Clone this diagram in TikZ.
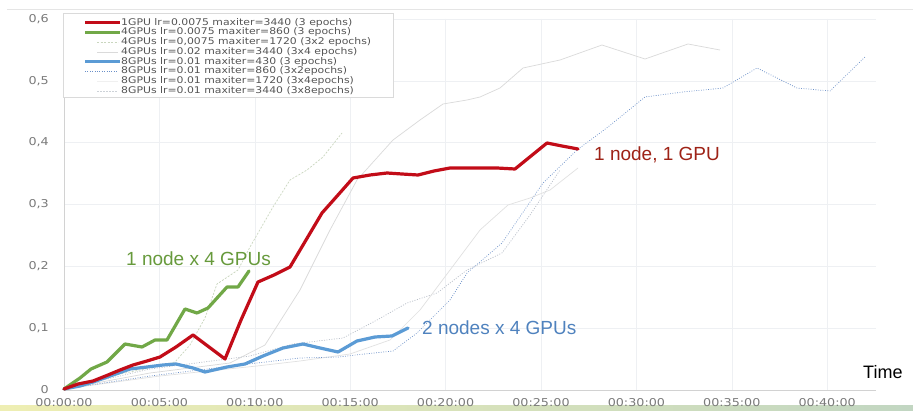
\documentclass[tikz,border=0pt]{standalone}
\usepackage{fontspec}
\setmainfont{Liberation Sans}
\newfontfamily\tickfont[FakeStretch=1.18]{DejaVu Sans}
\usetikzlibrary{calc}

\definecolor{gpuone}{HTML}{C20C18}
\definecolor{gpufour}{HTML}{71A847}
\definecolor{gpueight}{HTML}{5B9BD5}
\definecolor{gpuonetxt}{HTML}{9E2216}
\definecolor{gpufourtxt}{HTML}{679A3C}
\definecolor{gpueighttxt}{HTML}{4F82BE}
\definecolor{gridc}{HTML}{EEF0F3}
\definecolor{axisc}{HTML}{D2D2D2}
\definecolor{tickc}{HTML}{7A7A7A}
\definecolor{legc}{HTML}{555555}
\definecolor{fgreen}{HTML}{C9D6BE}
\definecolor{fgray}{HTML}{DADADA}
\definecolor{fblue}{HTML}{6A8FC8}
\definecolor{fdot}{HTML}{B8BEC8}

\tikzset{
  run/.style={line width=3.2pt, line join=round, line cap=round},
  faint/.style={line width=0.7pt, line join=round},
  tick/.style={font=\tickfont\fontsize{10.8}{12}\selectfont, text=tickc, inner sep=0},
  legtext/.style={font=\tickfont\fontsize{9.2}{9.75}\selectfont, text=legc, anchor=west, inner sep=0},
  note/.style={font=\fontsize{19}{22}\selectfont, anchor=west, inner sep=0}
}

\begin{document}
\begin{tikzpicture}[x=1pt,y=-1pt]
    \useasboundingbox (0,0) rectangle (913,411);
    \fill[white] (0,0) rectangle (913,411);
    \draw[fgray!70] (7,9) -- (913,9);
    \shade[left color=black!22!yellow!30!white, right color=green!20!gray!40] (0,406) rectangle (913,411);

    % grid and axes
    \foreach \i in {1,...,8}
        \draw[gridc] ({64+95.4*\i},19) -- ({64+95.4*\i},390);
    \foreach \j in {1,...,6}
        \draw[gridc] (64,{389.5-61.75*\j}) -- (876,{389.5-61.75*\j});
    \draw[axisc] (64,19) -- (64,390) -- (876,390);

    \foreach \lab [count=\i from 0] in {00:00:00,00:05:00,00:10:00,00:15:00,00:20:00,00:25:00,00:30:00,00:35:00,00:40:00}
        \node[tick] (t\i) at ({64+95.4*\i},403) {\lab};
    \foreach \lab [count=\j from 0] in {0,{0,1},{0,2},{0,3},{0,4},{0,5},{0,6}}
        \node[tick, anchor=east] (a\j) at (49,{389.5-61.75*\j}) {\lab};

    % faint runs
    \draw[faint, fgreen, dash pattern=on 2pt off 1.5pt] plot coordinates {(64,389) (100,378) (140,370) (175,362) (190,345) (205,318) (217,284) (238,270) (250,247) (273,207) (290,180) (307,170) (323,157) (342,133)};
    \draw[faint, fgray] plot coordinates {(64,389) (150,373) (230,363) (265,345) (300,290) (330,230) (357,180) (393,140) (420,120) (443,104) (467,100) (480,97) (500,88) (523,68) (560,60) (602,45) (645,59) (688,44) (720,50)};
    \draw[faint, fdot, dash pattern=on 1pt off 1.5pt] plot coordinates {(64,389) (150,369) (250,356) (293,344) (343,338) (377,320) (407,303) (437,293) (467,270) (502,253) (530,215) (560,170)};
    \draw[faint, fgray!80] plot coordinates {(64,389) (160,376) (257,366) (300,361) (350,354) (390,340) (420,310) (450,270) (480,230) (508,205) (530,198) (550,190) (578,168)};
    \draw[faint, fblue, dash pattern=on 0.8pt off 1.6pt] plot coordinates {(64,389) (150,376) (257,363) (300,358) (338,357) (365,354) (393,351) (417,333) (450,300) (467,273) (502,243) (543,183) (577,150) (608,127) (645,97) (683,92) (723,88) (757,68) (797,88) (830,91) (865,57)};

    % main runs
    \draw[run, gpueight] plot coordinates {(64,389) (80,386) (96,381) (113,375) (130,369) (147,367) (163,365) (176,364) (193,368) (205,372) (227,367) (245,364) (263,356) (283,348) (303,344) (320,348) (338,352) (357,341) (375,337) (392,336) (408,328)};
    \draw[run, gpufour] plot coordinates {(64,389) (80,378) (91,369) (107,362) (125,344) (142,347) (155,340) (167,340) (185,309) (197,313) (208,308) (227,287) (238,287) (249,271)};
    \draw[run, gpuone] plot coordinates {(64,389) (78,384) (93,381) (108,375) (120,370) (133,365) (147,361) (160,357) (176,347) (193,335) (209,347) (225,359) (241,320) (258,282) (274,275) (290,267) (306,240) (322,213) (338,195) (353,178) (370,175) (387,173) (402,174) (418,175) (434,171) (450,168) (465,168) (480,168) (497,168) (515,169) (531,156) (547,143) (562,146) (578,149)};

    \node[note, text=gpufourtxt] (lbl4gpu) at (126,259) {1 node x 4 GPUs};
    \node[note, text=gpueighttxt] (lbl8gpu) at (422,328) {2 nodes x 4 GPUs};
    \node[note, text=gpuonetxt] (lbl1gpu) at (594,155) {1 node, 1 GPU};
    \node[note, font=\fontsize{18}{20}\selectfont] (time) at (863,372) {Time};

    % legend
    \draw[fgray, fill=white] (63,13) rectangle (393,97);
    \draw[run, line cap=butt, gpuone] (85,22.7) -- (120,22.7);
    \draw[run, line cap=butt, gpufour] (85,32.5) -- (120,32.5);
    \draw[faint, fgreen, dash pattern=on 2pt off 1.5pt] (97,42.2) -- (118,42.2);
    \draw[faint, fgray] (97,52) -- (118,52);
    \draw[run, line cap=butt, gpueight] (85,61.7) -- (120,61.7);
    \draw[faint, fblue, dash pattern=on 0.8pt off 1.6pt] (85,71.5) -- (118,71.5);
    \draw[faint, fgray!40] (97,81.2) -- (118,81.2);
    \draw[faint, fdot!70, dash pattern=on 1.5pt off 1.5pt] (97,91) -- (118,91);
    \foreach \txt [count=\k from 0] in {1GPU lr=0.0075 maxiter=3440 (3 epochs),
        4GPUs lr=0.0075 maxiter=860 (3 epochs),
        {4GPUs lr=0,0075 maxiter=1720 (3x2 epochs)},
        4GPUs lr=0.02 maxiter=3440 (3x4 epochs),
        8GPUs lr=0.01 maxiter=430 (3 epochs),
        8GPUs lr=0.01 maxiter=860 (3x2epochs),
        8GPUs lr=0.01 maxiter=1720 (3x4epochs),
        8GPUs lr=0.01 maxiter=3440 (3x8epochs)}
        \node[legtext] (leg\k) at (121,{22.7+9.75*\k}) {\txt};
\end{tikzpicture}
\end{document}
